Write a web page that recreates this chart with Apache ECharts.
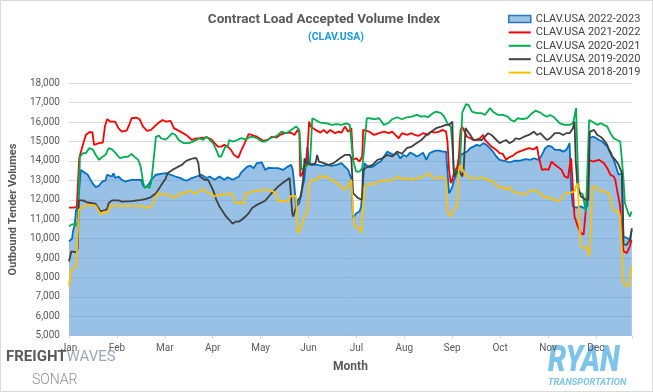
<!DOCTYPE html>
<html><head><meta charset="utf-8">
<script src="https://cdn.jsdelivr.net/npm/echarts@6/dist/echarts.min.js"></script>
<style>html,body{margin:0;padding:0;background:#fff}#c{width:653px;height:392px}</style>
</head><body><div id="c"></div>
<script>
const months = ['Jan','Feb','Mar','Apr','May','Jun','Jul','Aug','Sep','Oct','Nov','Dec'];
const DAYS_PER_MONTH = 30.4;
const X_MAX_DAY = 357.3;
const Y_MIN = 5000, Y_MAX = 18000, Y_STEP = 1000;
const seriesNames = ['CLAV.USA 2022-2023','CLAV.USA 2021-2022','CLAV.USA 2020-2021','CLAV.USA 2019-2020','CLAV.USA 2018-2019'];

// [day of season, volume index]
const clav2022 = [[0,9860],[2,10000],[2.5,10370],[3.6,10700],[4.5,11490],[5.5,11600],[6,12000],[7.5,13540],[8.7,13630],[11.8,13300],[12.8,13200],[14.9,12860],[17,12650],[19,12720],[21.1,12940],[23.2,13000],[24.2,13290],[27.3,13200],[28.3,13370],[29.3,13120],[31.4,13200],[33.5,13030],[35.5,12940],[36.6,12940],[39.7,13030],[42.8,13030],[43.9,13120],[45.9,13030],[47,12720],[49,12650],[51.1,12860],[52.1,13030],[55.2,13290],[58.3,13340],[61.4,13370],[64.5,13290],[67.6,13200],[70.7,13120],[72.7,13030],[74.9,12990],[77.9,13120],[80.9,13200],[84,13290],[87.3,13120],[89.3,13200],[92.4,13030],[95.5,13200],[98.6,13030],[100.7,13160],[103.8,13030],[105.9,13120],[107.9,13200],[109,13370],[111,13540],[113.1,13710],[115.1,13750],[117.2,13630],[119.3,13890],[122.4,13930],[124.5,13540],[126.5,13650],[129.6,13630],[132.7,13630],[135.8,13540],[138.9,13710],[141,13800],[142,13540],[143.1,12680],[144.1,11660],[145.1,11700],[146.2,11830],[147.2,12300],[149.3,13030],[151.3,14740],[152.4,13890],[154.4,13800],[157.5,13800],[160.6,13750],[163.7,13800],[166.8,13750],[169.9,13800],[173,13890],[175.1,13710],[177.2,13540],[178.2,13290],[179.2,13120],[180.3,11060],[181.3,10970],[182.3,11310],[184.4,11400],[185.4,11660],[186.3,12500],[187.5,13890],[189.6,13710],[191.6,13670],[193.7,13750],[195.8,13890],[197.8,13970],[199.9,14230],[202,14480],[204,14400],[206.1,14310],[208.2,14400],[210.2,14140],[212.3,14310],[214.4,14230],[216.4,14430],[218.5,14360],[220.7,14230],[222.6,14310],[224.7,14430],[226.8,14060],[228.8,14400],[230.9,14480],[233,14530],[235,14530],[237.1,14480],[239.3,14480],[240.2,14400],[241.2,12340],[242.3,12500],[243.3,12680],[244.3,13030],[245.4,13200],[246.4,13540],[247.4,14060],[248.5,14310],[250.5,14400],[252.6,14480],[254.7,14660],[256.7,14740],[258.8,14830],[260.9,14780],[262.9,14920],[265,14830],[267.1,14660],[269.1,14480],[271.2,14230],[273.3,14060],[276.4,14010],[279.5,13920],[282.6,14010],[285.7,14010],[289.8,14090],[292.9,14060],[295,14140],[298.1,14060],[300.1,14310],[302.2,14660],[304.3,14780],[306.3,14740],[308.4,14570],[311.5,14570],[313.6,14480],[315.6,14570],[316.7,14740],[317.7,14920],[318.7,12500],[319.8,11660],[321.8,11600],[324.9,11660],[327,11570],[329,11660],[330.1,15170],[332.2,15250],[334.2,15200],[336.3,15080],[338.4,15000],[341.6,14740],[343.6,14480],[345.7,14060],[347.8,13540],[348.8,13290],[350.9,13370],[351.9,10110],[354,10030],[356,9940],[357.2,10460]];

const clav2021 = [[0,11600],[3.5,11600],[5,11650],[6.5,14150],[8.7,14800],[10.7,15340],[12.8,15480],[14.9,15480],[15.9,14830],[19,14920],[21.5,14950],[22.8,15770],[24.2,16150],[26.2,16030],[29.3,16030],[31.4,15690],[33.5,15510],[36.6,15560],[38.6,15940],[39.7,16200],[42.8,16230],[44.8,16150],[47,15770],[49.6,15550],[52.1,15600],[54.2,15770],[56.9,15970],[59.4,16110],[61.4,16030],[64.5,16060],[66.6,15690],[70.7,15510],[74.4,15340],[78,15080],[80,15150],[83.1,15170],[87.3,15220],[90.4,15120],[92.4,14920],[94.5,14740],[96.6,14740],[98.6,14830],[100.7,14740],[102.8,14570],[104.8,14310],[107.5,14170],[109,14480],[111,14830],[114.1,15390],[117.2,15300],[119.3,15250],[123.4,15030],[126.5,15100],[128.6,15250],[131.7,15200],[133.8,15340],[136.9,15430],[141,15460],[143.1,15340],[145.1,15600],[146.2,15430],[146.8,13200],[148.2,13370],[149.3,13710],[150.9,13800],[152.4,16030],[153.4,15770],[156.5,15600],[159.6,15460],[161.7,15600],[163.7,15430],[165.8,15600],[168.9,15430],[171,15510],[173,15460],[175.1,15770],[177.2,15510],[179.2,15690],[180.3,14060],[182.3,14140],[184.4,13970],[186.1,14230],[186.7,15600],[190.6,15510],[193.7,15340],[196.8,15430],[199.9,15510],[203,15430],[205.1,15510],[207.1,15340],[209.2,15170],[211.3,15430],[214.4,15340],[217.5,15430],[219.6,15340],[221.6,15290],[224.7,15430],[227.8,15340],[229.9,15510],[232,15460],[235,15510],[237.1,15600],[239.3,15510],[240.2,15000],[241.2,13540],[242.3,12860],[243.3,13040],[244.3,13370],[246.4,13700],[247.4,14200],[248.5,15600],[249.5,15770],[250.5,15600],[252.6,15250],[254.7,15170],[256.7,15080],[258.8,15100],[260.9,15170],[262.9,15340],[264,15080],[266,14920],[268.1,14740],[271.2,14570],[273.3,14400],[275.3,14360],[277.4,14060],[279.5,14200],[281.6,14260],[283.6,14400],[285.7,14480],[288.8,14570],[291.9,14660],[295,14600],[297,14740],[298.1,14230],[300.1,13540],[302.2,13580],[304.3,13540],[306.3,13970],[308.4,13800],[310.5,13680],[312.6,13540],[314.6,13200],[316.7,13120],[317.7,13710],[318.7,14140],[319.8,14230],[320.8,11140],[322.9,10630],[324.9,10290],[326.6,10200],[328,11500],[330.1,14060],[332.2,13970],[336.3,14060],[339.4,13900],[341.6,13630],[343.6,13290],[345.7,13200],[346.7,13030],[347.8,12510],[349.8,11660],[350.9,10110],[351.9,9340],[354,9260],[355,9340],[356,9600],[357,9940]];

const clav2020 = [[0,10630],[1.5,10720],[4.5,10770],[5.5,10630],[7,14230],[9,14400],[10.7,14400],[12.8,14660],[15,14600],[17,14310],[19,14060],[21,14200],[23.2,14310],[25.2,14660],[27.3,14600],[29.3,14430],[32.4,14140],[34.5,14200],[37.6,14230],[39.7,14360],[41.8,14200],[43.9,14060],[45.5,13710],[47,12940],[48,12600],[49.5,12700],[51,12600],[52.1,12860],[53,13500],[55.2,15250],[57.3,15300],[58.3,15170],[61.4,15100],[63.5,15250],[65.6,15430],[67.6,15340],[69.6,15080],[72.7,14920],[75.9,14920],[78,14970],[80.9,15080],[83,15170],[85,15080],[87.3,15250],[89.3,15080],[91.4,14920],[93.5,14570],[95.1,14230],[96.6,14230],[99.2,14740],[100.7,14740],[101.7,15080],[103.8,15000],[106.9,15080],[109,15170],[112,15110],[114.1,15200],[116.1,15250],[119.3,15170],[122.4,15000],[124.5,15000],[127.6,15170],[130.7,15250],[132.7,15340],[134.8,15510],[137.9,15430],[141,15600],[144.2,15770],[145.1,15860],[146.2,15600],[147.6,13540],[150.3,13710],[153,13890],[154.4,16200],[156.5,16110],[159.6,15970],[163.7,15940],[166.8,15860],[169.9,15900],[173,15860],[176.1,15940],[178.2,15860],[179.2,15940],[180.3,14060],[181.3,13710],[182.3,13450],[184.4,13450],[186.1,13630],[187.5,14800],[189,16200],[190.6,16200],[193.7,16150],[196.8,16200],[199.9,15860],[203,15970],[205.1,16150],[208.2,16250],[211.3,16150],[214.4,16250],[217.5,16280],[220.7,16370],[223.7,16280],[225.8,16310],[227.8,16250],[230.9,16460],[233,16540],[236.1,16460],[238.1,16280],[240.2,15940],[242.3,15770],[243.1,15000],[244.3,13500],[246.2,13300],[248.1,13700],[249.6,16500],[252,16930],[253.6,16880],[255.7,16540],[258.8,16460],[261.9,16460],[264,16370],[267.2,16720],[269.1,16540],[272.2,16370],[275.3,16370],[278.4,16280],[280.5,16110],[282.6,16030],[284.6,16200],[287.7,16150],[290.8,16200],[293.9,16460],[296,16590],[299.1,16490],[301.2,16370],[303.2,16280],[305.3,16370],[307.4,16280],[309.4,16110],[311.5,15940],[314.6,15860],[317.7,15860],[319.8,15940],[320.8,16280],[321.8,16720],[322.8,14000],[323.5,12400],[326,12300],[328,11400],[329,13500],[330.1,16110],[333.2,15970],[335.3,15860],[337.4,15940],[339.4,15860],[341.6,15770],[343.6,15430],[345.7,15170],[347.8,15080],[349.8,15000],[350.9,14060],[351.9,13030],[352.8,11830],[354.9,11310],[356,11140],[357,11400]];

const clav2019 = [[0,8830],[1.5,9340],[4.5,9290],[5.5,9500],[6.3,11970],[8.7,11970],[11.8,11860],[14.9,11830],[17,11790],[18,11660],[20.1,11400],[22.2,11450],[24.2,11520],[25.2,11830],[27.3,11970],[31.4,11970],[33.5,11910],[39.7,11930],[45.9,12000],[49,12050],[52.1,12140],[55.2,12340],[57.3,12600],[59.4,12860],[61.4,13100],[62.5,13370],[65.6,13540],[68.7,13680],[71.7,13800],[73.8,13970],[75.9,14060],[79,14140],[80.9,14140],[82.1,13890],[83.1,13200],[86,13030],[88.3,13030],[91.4,12510],[93.5,12000],[95.5,11660],[97.6,11400],[99.7,11140],[101.7,10970],[103.8,10770],[106,10880],[108,10880],[110,11000],[112,11140],[114.1,11310],[116.1,11570],[119.3,11740],[120.3,11800],[124.5,11950],[128.6,12340],[132.7,12680],[136.9,12940],[140,13120],[141,13200],[141.7,11310],[142.3,11140],[143.9,11570],[145.4,12000],[147.2,12170],[148.5,13000],[149.5,14140],[150.3,13970],[153.4,13800],[156.5,13890],[157.5,14310],[158.6,13970],[161.7,13890],[164.8,13800],[167.9,13890],[172,14140],[175.1,14310],[178.2,14310],[179.2,14140],[180.3,12340],[183.4,12090],[186.1,12000],[186.5,13540],[189.6,13710],[192.7,13800],[195.8,14060],[198.9,14140],[202,14310],[205.1,14230],[208.2,14480],[211.3,14370],[214.4,14660],[217.5,14740],[220.7,14920],[223.7,15080],[226.8,15340],[229.9,15510],[233,15690],[236.1,15770],[239.3,15860],[241.2,15860],[242.3,15770],[243.3,16030],[243.9,13890],[244.3,13200],[245.4,13370],[247.4,13540],[248.5,13450],[249.5,13200],[250.5,13540],[251.6,15690],[252.6,15600],[254.7,15340],[256.7,15080],[258.8,15100],[261.9,15080],[264,15250],[266,15430],[268.1,15340],[270.2,15170],[273.3,14920],[275.3,15000],[277.4,15080],[279.5,14920],[281.5,15000],[283.6,15170],[285.7,15120],[288.8,15250],[291.9,15340],[295,15510],[297,15340],[299.1,15430],[301.2,15250],[303.2,15080],[305.3,15170],[308.4,15430],[311.5,15430],[313.6,15340],[315.6,15430],[317.7,15430],[319.8,15690],[320.8,16030],[321.6,14000],[322.6,12800],[324.9,12170],[328,12000],[329.6,12000],[330.5,15500],[333.2,15600],[335.3,15340],[337.3,15250],[339.4,15080],[341.6,14830],[342.6,14570],[344.7,14230],[346.7,14060],[348.8,13800],[349.8,13890],[350.9,13370],[351.9,9690],[354,9690],[355,9600],[356,9940],[357.2,10540]];

const clav2018 = [[0,7540],[1.5,8400],[4.5,8570],[5.5,8600],[6.3,11490],[8.7,11620],[11.8,11740],[14.9,11740],[17,11690],[19,11400],[20.7,11230],[22.2,11400],[24.2,11310],[26.2,11690],[30.4,11690],[33.5,11690],[39.7,11690],[45.9,11690],[49,11570],[52.1,11650],[54.2,11910],[56.3,12340],[58.3,12250],[60.4,12340],[62.5,12250],[64.5,12200],[66.6,12090],[68.7,12200],[70.7,12340],[72.7,12300],[74.9,12430],[77,12470],[79,12340],[82,12400],[84.1,12550],[86.2,12500],[88.3,12340],[90.4,12310],[92.4,12170],[94.5,12260],[98.6,12260],[101.7,12340],[103.8,12260],[104.8,12170],[105.9,11830],[109,11860],[111,11790],[112,12340],[115,12380],[117.2,12430],[120.3,12480],[123.4,12510],[126.5,12510],[129.6,12430],[131.7,12260],[132.7,11910],[135,11950],[138.9,11910],[140.9,12200],[143.9,12200],[144.2,12000],[145.1,10290],[146.4,10400],[147.6,10630],[149.1,11060],[150.1,11000],[151.3,11400],[152.3,12680],[153.4,13030],[154.4,13120],[157.5,13030],[158.6,13200],[162.7,13200],[166.8,13030],[169.9,12860],[173,12680],[175.1,12510],[177.2,12700],[179.2,13030],[180.3,11310],[181.3,10630],[181.8,10540],[184.4,10500],[185.4,10290],[186.5,10350],[187.5,12680],[189.6,12820],[194,12800],[196.8,12940],[200.9,13030],[204,12970],[207.1,13120],[209.2,13200],[212.3,13030],[215.4,13120],[218.5,13030],[221.6,13120],[224.7,13200],[226.8,13290],[228.8,13370],[230.9,13120],[234,13100],[237.1,13200],[239.3,13030],[240.2,11400],[242.3,11140],[244.3,11500],[246.4,11660],[247.4,13540],[248.5,13800],[249.5,13600],[251.6,13290],[254.7,13120],[258.8,13100],[262.9,13150],[264,13200],[266,13000],[269.1,12940],[271.2,12770],[273.3,12600],[275.3,12680],[277.4,12510],[279.5,12680],[281.5,12430],[284.6,12340],[288.8,12260],[291.9,12430],[293.9,12510],[297,12430],[300.1,12260],[302.2,12090],[304.3,12170],[306.3,12040],[308.4,12000],[310.5,11910],[313.6,12170],[315.6,12340],[317.7,12340],[320.8,12430],[321.8,12700],[322.9,12860],[323.9,10800],[324.9,9600],[326.9,9520],[329,9520],[330.1,9090],[331.1,10500],[332.2,12680],[334.2,12680],[336.3,12510],[339.4,12430],[342.6,12340],[343.6,12090],[344.7,11570],[346.7,11400],[348.8,11400],[349.8,11140],[350.9,9430],[351.3,7800],[352.8,7630],[355,7540],[356,7600],[357,8570]];

const FONT = 'Roboto, "Liberation Sans", sans-serif';
const chart = echarts.init(document.getElementById('c'), null, {renderer: 'canvas'});

function lineSeries(name, data, color) {
  return {
    name, type: 'line', data, showSymbol: false, symbol: 'none',
    color, lineStyle: {color, width: 1.8}, itemStyle: {color}, emphasis: {disabled: true}
  };
}
const thinBar = 'path://M0,0 L22,0 L22,2 L0,2 Z';

chart.setOption({
  animation: false,
  backgroundColor: '#ffffff',
  title: [
    {text: 'Contract Load Accepted Volume Index', left: 319, top: 8, textAlign: 'center',
     textStyle: {fontFamily: FONT, fontSize: 13.5, fontWeight: 'bold', color: '#595959'}},
    {text: '(CLAV.USA)', left: 331, top: 27, textAlign: 'center',
     textStyle: {fontFamily: FONT, fontSize: 10.5, fontWeight: 'bold', color: '#1a9ae0'}}
  ],
  legend: {
    orient: 'vertical', left: 503, top: 7.5, itemWidth: 22, itemHeight: 7, itemGap: 0.4,
    textStyle: {fontFamily: FONT, fontSize: 11, color: '#404040', lineHeight: 13},
    data: [
      {name: seriesNames[0], icon: 'rect', itemStyle: {color: '#9dc3e6', borderColor: '#2e75b6', borderWidth: 1.5}},
      {name: seriesNames[1], icon: thinBar, itemStyle: {color: '#ff0000', borderWidth: 0}},
      {name: seriesNames[2], icon: thinBar, itemStyle: {color: '#00b050', borderWidth: 0}},
      {name: seriesNames[3], icon: thinBar, itemStyle: {color: '#404040', borderWidth: 0}},
      {name: seriesNames[4], icon: thinBar, itemStyle: {color: '#ffc000', borderWidth: 0}}
    ]
  },
  grid: {left: 56, right: 21, top: 83.3, bottom: 56.3},
  xAxis: {
    type: 'value', min: 0, max: X_MAX_DAY, interval: DAYS_PER_MONTH,
    name: 'Month', nameLocation: 'middle', nameGap: 25,
    nameTextStyle: {fontFamily: FONT, fontSize: 12, fontWeight: 'bold', color: '#595959'},
    axisLine: {show: true, lineStyle: {color: '#d9d9d9', width: 1}},
    axisTick: {show: true, length: 3, lineStyle: {color: '#d9d9d9'}},
    splitLine: {show: false},
    axisLabel: {fontFamily: FONT, fontSize: 10, color: '#595959', margin: 8,
      formatter: v => { const k = v / DAYS_PER_MONTH; const r = Math.round(k); return Math.abs(k - r) < 0.01 ? (months[r] || '') : ''; }}
  },
  yAxis: {
    type: 'value', min: Y_MIN, max: Y_MAX, interval: Y_STEP,
    name: 'Outbound Tender Volumes', nameLocation: 'middle', nameGap: 40,
    nameTextStyle: {fontFamily: FONT, fontSize: 11, fontWeight: 'bold', color: '#595959'},
    axisLine: {show: false}, axisTick: {show: false},
    splitLine: {lineStyle: {color: '#d9d9d9', width: 1}},
    axisLabel: {fontFamily: FONT, fontSize: 10, color: '#595959', margin: 9,
      formatter: v => v.toLocaleString('en-US')}
  },
  series: [
    {name: seriesNames[0], type: 'line', data: clav2022, showSymbol: false, symbol: 'none',
     color: '#0070c0', lineStyle: {color: '#0070c0', width: 1.8},
     areaStyle: {color: 'rgba(91,155,213,0.62)', opacity: 1}, emphasis: {disabled: true}},
    lineSeries(seriesNames[1], clav2021, '#ff0000'),
    lineSeries(seriesNames[2], clav2020, '#00b050'),
    lineSeries(seriesNames[3], clav2019, '#404040'),
    lineSeries(seriesNames[4], clav2018, '#ffc000')
  ],
  graphic: [
    {type: 'rect', silent: true, shape: {x: 0.5, y: 0.5, width: 652, height: 391}, style: {fill: 'none', stroke: '#d9d9d9', lineWidth: 1}},
    {type: 'text', silent: true, x: 6, y: 357, style: {x: 0, y: 0, text: '{a|FREIGHT}{b|WAVES}', textVerticalAlign: 'middle',
      rich: {a: {fontFamily: FONT, fontSize: 15, fontWeight: 'bold', fill: '#58595b'}, b: {fontFamily: FONT, fontSize: 15, fontWeight: 'normal', fill: '#9aa8bd'}}}},
    {type: 'text', silent: true, x: 32, y: 380, style: {x: 0, y: 0, text: 'SONAR', textVerticalAlign: 'middle', fontFamily: FONT, fontSize: 14, fontWeight: 300, fill: '#8c8c8c'}},
    {type: 'text', silent: true, x: 548, y: 362, scaleX: 0.8, style: {x: 0, y: 0, text: 'RYAN', textVerticalAlign: 'middle', fontFamily: FONT, fontSize: 36, fontWeight: 900, fontStyle: 'italic', fill: '#7cc4ea'}},
    {type: 'text', silent: true, x: 548, y: 383, style: {x: 0, y: 0, text: 'TRANSPORTATION', textVerticalAlign: 'middle', fontFamily: FONT, fontSize: 9.3, fontWeight: 'bold', fontStyle: 'italic', fill: '#7cc4ea'}}
  ]
});
</script></body></html>
